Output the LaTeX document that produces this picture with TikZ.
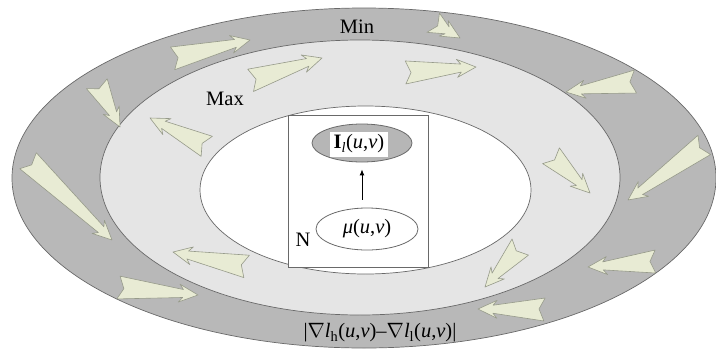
\documentclass[tikz,border=0pt]{standalone}
\usepackage{fontspec}
\setmainfont{Liberation Serif}
\usetikzlibrary{shapes.geometric,arrows.meta}
\definecolor{bandgray}{RGB}{184,184,184}
\definecolor{ringlight}{RGB}{229,229,229}
\definecolor{linegray}{RGB}{105,105,105}
\definecolor{arrowfill}{RGB}{232,235,212}
\definecolor{arrowedge}{RGB}{150,154,138}
\definecolor{ilgray}{RGB}{182,182,182}
\tikzset{
  ring/.style={draw=linegray, line width=0.7pt},
  fatarrow/.style={fill=arrowfill, draw=arrowedge, line width=0.6pt, line join=round},
  lbl/.style={inner sep=0pt, font=\fontsize{20.5}{24}\selectfont},
  smallell/.style={ellipse, draw=linegray, line width=0.8pt, inner sep=0pt},
}
\newcommand\blockarrow[4]{%
  \pgfmathsetmacro\baang{atan2(-(#4-#2),#3-#1)}%
  \pgfmathsetmacro\balen{veclen(#3-#1,#4-#2)}%
  \begin{scope}[shift={(#1,#2)},rotate=\baang]
    \filldraw[fatarrow] (0,12) -- (6,1) -- (1,-11) -- (\balen-15,-4) -- (\balen-19,-9)
      -- (\balen,0) -- (\balen-19,9) -- (\balen-15,4) -- cycle;
  \end{scope}}
\begin{document}
\begin{tikzpicture}[x=1pt,y=-1pt]
\useasboundingbox (0,0) rectangle (716,354);
% rings
\filldraw[ring, fill=bandgray] (364,178) ellipse [x radius=352, y radius=170];
\filldraw[ring, fill=ringlight] (360,177.5) ellipse [x radius=260, y radius=137.5];
\filldraw[ring, fill=white] (365.5,190) ellipse [x radius=165.5, y radius=84];
% box
\node[draw=linegray, line width=0.8pt, fill=white, minimum width=140pt, minimum height=152pt, inner sep=0pt] (box) at (358,191) {};
% arrows in the rings
\blockarrow{172}{58}{250}{40}
\blockarrow{250}{80}{322}{58}
\blockarrow{97}{83}{120}{127}
\blockarrow{207}{147}{150}{118}
\blockarrow{28}{160}{112}{240}
\blockarrow{247}{267}{173}{252}
\blockarrow{118}{287}{198}{295}
\blockarrow{433}{22}{460}{38}
\blockarrow{405}{72}{476}{67}
\blockarrow{636}{82}{566}{92}
\blockarrow{705}{145}{628}{200}
\blockarrow{551}{155}{590}{193}
\blockarrow{521}{247}{485}{287}
\blockarrow{656}{262}{588}{267}
\blockarrow{545}{310}{478}{309}
% inner nodes
\node[smallell, fill=ilgray, minimum width=100pt, minimum height=38pt] (il) at (362,143) {};
\node[lbl, fill=white, minimum width=58pt, minimum height=25pt] (iltext) at (359,144) {\textbf{I}\textsubscript{\itshape l}(\textit{u},\textit{v})};
\node[smallell, lbl, minimum width=102pt, minimum height=42pt] (mu) at (367,229) {\textit{μ}(\textit{u},\textit{v})};
\draw[line width=0.9pt, -{Latex[length=6pt,width=5pt]}, shorten <=8pt, shorten >=7pt] (mu.north -| il.south) -- (il.south);
% labels
\node[lbl] (minl) at (357,27) {Min};
\node[lbl] (maxl) at (225,99) {Max};
\node[lbl] (nl) at (303,240) {N};
\node[lbl] (diffl) at (380,333) {|$\nabla$\textit{l}\textsubscript{h}(\textit{u},\textit{v})–$\nabla$\textit{l}\textsubscript{l}(\textit{u},\textit{v})|};
\end{tikzpicture}
\end{document}
